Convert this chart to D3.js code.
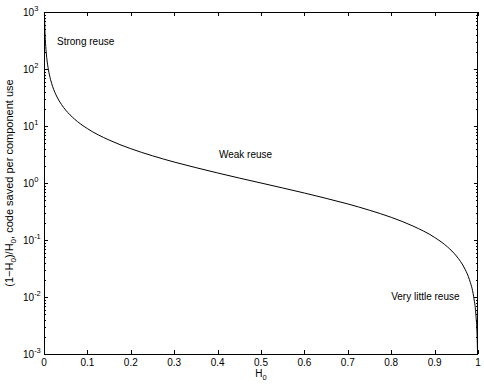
<!DOCTYPE html>
<html>
<head>
<meta charset="utf-8">
<script src="https://cdn.jsdelivr.net/npm/d3@7"></script>
<style>
  body { margin: 0; background: #fff; }
  text { font-family: "Liberation Sans", Arial, sans-serif; fill: #000; }
</style>
</head>
<body>
<div id="chart"></div>
<script>
// values
const h0 = [0.001, 0.002, 0.003, 0.005, 0.0075, 0.01, 0.015, 0.02, 0.03, 0.04, 0.05, 0.07,
  0.1, 0.15, 0.2, 0.25, 0.3, 0.35, 0.4, 0.45, 0.5, 0.55, 0.6, 0.65, 0.7, 0.75, 0.8, 0.85,
  0.9, 0.93, 0.95, 0.97, 0.98, 0.99, 0.995, 0.998, 0.999];
const saved = [999, 499, 332, 199, 132, 99, 65.7, 49, 32.3, 24, 19, 13.3,
  9, 5.67, 4, 3, 2.33, 1.86, 1.5, 1.22, 1, 0.818, 0.667, 0.538, 0.429, 0.333, 0.25, 0.176,
  0.111, 0.0753, 0.0526, 0.0309, 0.0204, 0.0101, 0.00503, 0.002, 0.001];
const xTicks = [0, 0.1, 0.2, 0.3, 0.4, 0.5, 0.6, 0.7, 0.8, 0.9, 1];
const yExps = [-3, -2, -1, 0, 1, 2, 3];
const notes = [
  { label: "Strong reuse", x: 0.03, y: 264 },
  { label: "Weak reuse", x: 0.403, y: 2.75 },
  { label: "Very little reuse", x: 0.8, y: 0.0089 }
];

const W = 484, H = 385;
const m = { left: 44, right: 6, top: 12, bottom: 31 };

const svg = d3.select("#chart").append("svg")
  .attr("width", W).attr("height", H);

const x = d3.scaleLinear().domain([0, 1]).range([m.left, W - m.right]);
const y = d3.scaleLog().domain([1e-3, 1e3]).range([H - m.bottom, m.top]);

const x0 = x.range()[0], x1 = x.range()[1];
const yb = y.range()[0], yt = y.range()[1];

const g = svg.append("g").attr("stroke", "#000").attr("stroke-width", 1);

// x ticks, bottom and top, pointing inward
xTicks.forEach(t => {
  const px = Math.round(x(t)) + 0.5;
  g.append("line").attr("x1", px).attr("x2", px).attr("y1", yb).attr("y2", yb - 4);
  g.append("line").attr("x1", px).attr("x2", px).attr("y1", yt).attr("y2", yt + 4);
});

// y ticks (major and minor), left and right
yExps.forEach((e, i) => {
  const base = Math.pow(10, e);
  const pyM = Math.round(y(base)) + 0.5;
  g.append("line").attr("x1", x0).attr("x2", x0 + 4).attr("y1", pyM).attr("y2", pyM);
  g.append("line").attr("x1", x1).attr("x2", x1 - 4).attr("y1", pyM).attr("y2", pyM);
  if (i < yExps.length - 1) {
    for (let k = 2; k < 10; k++) {
      const py = Math.round(y(base * k)) + 0.5;
      g.append("line").attr("x1", x0).attr("x2", x0 + 2).attr("y1", py).attr("y2", py);
      g.append("line").attr("x1", x1).attr("x2", x1 - 2).attr("y1", py).attr("y2", py);
    }
  }
});

// box
svg.append("rect")
  .attr("x", x0 + 0.5).attr("y", yt + 0.5)
  .attr("width", x1 - x0 - 1).attr("height", yb - yt)
  .attr("fill", "none").attr("stroke", "#000").attr("stroke-width", 1);

// x tick labels
svg.append("g").selectAll("text").data(xTicks).join("text")
  .attr("x", d => x(d)).attr("y", yb + 12)
  .attr("text-anchor", "middle").attr("font-size", 10)
  .text(d => d3.format("~g")(d));

// y tick labels 10^e
const yl = svg.append("g").selectAll("text").data(yExps).join("text")
  .attr("x", x0 - 21).attr("y", d => y(Math.pow(10, d)) + 4)
  .attr("font-size", 10);
yl.append("tspan").text("10");
yl.append("tspan").attr("dy", -5).attr("font-size", 7.5).text(d => d);

// x label
const xl = svg.append("text")
  .attr("x", x(0.5)).attr("y", yb + 23)
  .attr("text-anchor", "middle").attr("font-size", 10);
xl.append("tspan").text("H");
xl.append("tspan").attr("dy", 3).attr("font-size", 7.5).text("0");

// y label
const ylab = svg.append("text")
  .attr("transform", `translate(13,${(yt + yb) / 2}) rotate(-90)`)
  .attr("text-anchor", "middle").attr("font-size", 11);
ylab.append("tspan").text("(1\u2212H");
ylab.append("tspan").attr("dy", 3).attr("font-size", 8).text("0");
ylab.append("tspan").attr("dy", -3).text(")/H");
ylab.append("tspan").attr("dy", 3).attr("font-size", 8).text("0");
ylab.append("tspan").attr("dy", -3).text(", code saved per component use");

// curve
const pts = h0.map((v, i) => [v, saved[i]]);
svg.append("path")
  .datum(pts)
  .attr("fill", "none").attr("stroke", "#000").attr("stroke-width", 1)
  .attr("d", d3.line().x(d => x(d[0])).y(d => y(d[1])).curve(d3.curveMonotoneX));

// annotations
svg.append("g").selectAll("text").data(notes).join("text")
  .attr("x", d => x(d.x)).attr("y", d => y(d.y))
  .attr("font-size", 10)
  .text(d => d.label);
</script>
</body>
</html>
